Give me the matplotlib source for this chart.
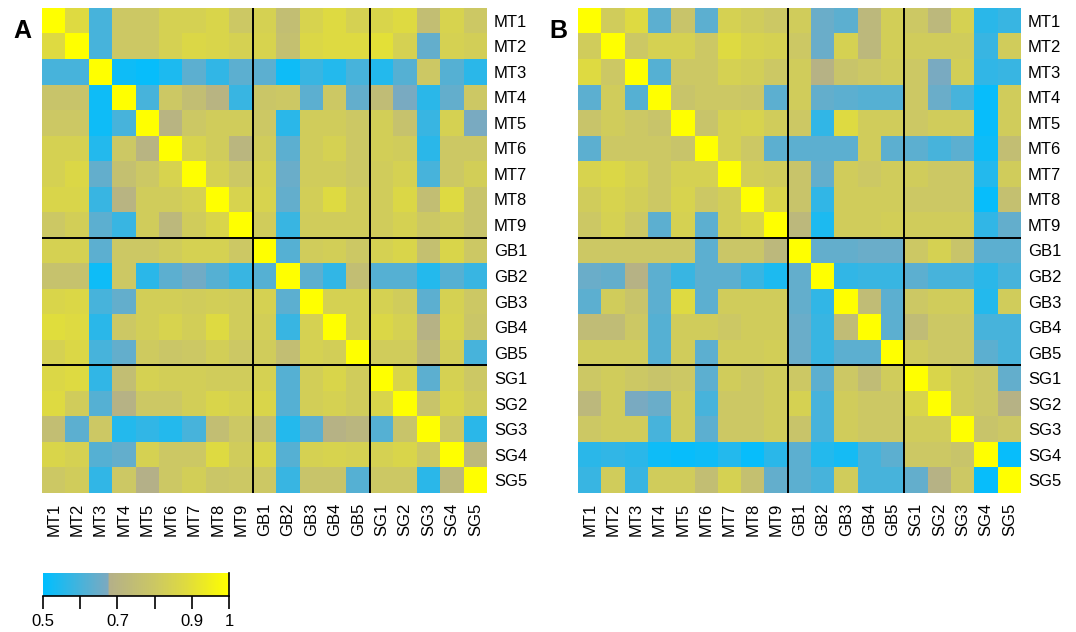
import numpy as np
import matplotlib
matplotlib.use("Agg")
import matplotlib.pyplot as plt
from matplotlib.colors import LinearSegmentedColormap

labels = ["MT1", "MT2", "MT3", "MT4", "MT5", "MT6", "MT7", "MT8", "MT9",
          "GB1", "GB2", "GB3", "GB4", "GB5",
          "SG1", "SG2", "SG3", "SG4", "SG5"]
group_breaks = [9, 14]

corr_a = [
    [1.00,0.88,0.60,0.80,0.80,0.84,0.84,0.86,0.80, 0.84,0.75,0.85,0.88,0.84, 0.86,0.88,0.75,0.85,0.80],
    [0.88,1.00,0.60,0.80,0.80,0.84,0.87,0.86,0.84, 0.85,0.76,0.87,0.88,0.88, 0.90,0.84,0.64,0.84,0.83],
    [0.60,0.60,1.00,0.52,0.51,0.54,0.63,0.57,0.63, 0.63,0.52,0.58,0.55,0.60, 0.55,0.62,0.80,0.62,0.56],
    [0.78,0.78,0.52,1.00,0.60,0.80,0.75,0.70,0.58, 0.79,0.80,0.63,0.80,0.64, 0.74,0.67,0.56,0.64,0.80],
    [0.80,0.80,0.52,0.60,1.00,0.70,0.80,0.82,0.82, 0.80,0.56,0.82,0.82,0.80, 0.83,0.77,0.58,0.84,0.67],
    [0.84,0.84,0.55,0.80,0.70,1.00,0.85,0.82,0.71, 0.82,0.63,0.82,0.84,0.80, 0.83,0.82,0.56,0.80,0.80],
    [0.84,0.87,0.64,0.76,0.80,0.85,1.00,0.84,0.80, 0.84,0.65,0.82,0.82,0.80, 0.82,0.84,0.60,0.80,0.83],
    [0.86,0.86,0.58,0.70,0.82,0.82,0.84,1.00,0.85, 0.85,0.64,0.83,0.88,0.82, 0.82,0.87,0.75,0.88,0.78],
    [0.80,0.83,0.63,0.58,0.82,0.72,0.82,0.86,1.00, 0.82,0.58,0.82,0.82,0.82, 0.82,0.84,0.80,0.82,0.78],
    [0.84,0.84,0.63,0.80,0.80,0.82,0.84,0.84,0.80, 1.00,0.62,0.82,0.83,0.80, 0.84,0.86,0.76,0.86,0.80],
    [0.77,0.77,0.52,0.80,0.56,0.63,0.66,0.62,0.58, 0.62,1.00,0.63,0.57,0.75, 0.62,0.62,0.55,0.62,0.58],
    [0.86,0.87,0.60,0.64,0.83,0.83,0.82,0.83,0.82, 0.84,0.63,1.00,0.84,0.84, 0.84,0.82,0.63,0.84,0.80],
    [0.89,0.88,0.56,0.80,0.83,0.85,0.83,0.88,0.82, 0.83,0.58,0.84,1.00,0.84, 0.87,0.84,0.69,0.85,0.79],
    [0.84,0.87,0.60,0.64,0.81,0.79,0.80,0.83,0.80, 0.82,0.75,0.84,0.83,1.00, 0.82,0.82,0.72,0.83,0.60],
    [0.87,0.88,0.57,0.75,0.84,0.83,0.83,0.82,0.82, 0.84,0.62,0.83,0.86,0.82, 1.00,0.86,0.63,0.84,0.80],
    [0.88,0.82,0.62,0.69,0.80,0.80,0.83,0.86,0.84, 0.86,0.62,0.83,0.84,0.82, 0.86,1.00,0.78,0.86,0.82],
    [0.75,0.63,0.80,0.55,0.57,0.55,0.60,0.75,0.80, 0.76,0.55,0.63,0.69,0.71, 0.62,0.78,1.00,0.80,0.56],
    [0.86,0.84,0.62,0.64,0.84,0.80,0.80,0.88,0.82, 0.86,0.62,0.84,0.85,0.84, 0.84,0.86,0.80,1.00,0.72],
    [0.80,0.82,0.57,0.80,0.68,0.80,0.83,0.79,0.80, 0.80,0.58,0.78,0.78,0.62, 0.80,0.80,0.56,0.72,1.00],
]

corr_b = [
    [1.00,0.82,0.88,0.63,0.78,0.63,0.84,0.82,0.80, 0.82,0.65,0.63,0.72,0.83, 0.80,0.72,0.84,0.56,0.58],
    [0.82,1.00,0.80,0.84,0.84,0.80,0.88,0.85,0.84, 0.80,0.65,0.84,0.72,0.83, 0.82,0.82,0.82,0.58,0.82],
    [0.88,0.80,1.00,0.62,0.80,0.80,0.84,0.83,0.80, 0.82,0.69,0.78,0.80,0.82, 0.80,0.67,0.83,0.57,0.58],
    [0.63,0.82,0.62,1.00,0.78,0.80,0.80,0.79,0.63, 0.82,0.64,0.63,0.62,0.62, 0.80,0.65,0.60,0.51,0.82],
    [0.78,0.82,0.80,0.78,1.00,0.78,0.84,0.85,0.82, 0.80,0.57,0.88,0.82,0.82, 0.80,0.82,0.82,0.51,0.82],
    [0.63,0.80,0.80,0.80,0.78,1.00,0.84,0.80,0.63, 0.63,0.63,0.63,0.82,0.63, 0.63,0.60,0.63,0.52,0.75],
    [0.85,0.87,0.84,0.80,0.84,0.84,1.00,0.83,0.82, 0.78,0.64,0.82,0.80,0.82, 0.82,0.80,0.80,0.55,0.82],
    [0.82,0.85,0.83,0.80,0.85,0.80,0.83,1.00,0.86, 0.78,0.57,0.82,0.82,0.82, 0.80,0.80,0.80,0.51,0.76],
    [0.80,0.84,0.80,0.63,0.84,0.63,0.83,0.86,1.00, 0.72,0.54,0.82,0.82,0.83, 0.82,0.82,0.82,0.57,0.64],
    [0.80,0.80,0.80,0.80,0.80,0.63,0.79,0.79,0.72, 1.00,0.64,0.64,0.65,0.65, 0.80,0.84,0.78,0.63,0.63],
    [0.65,0.64,0.69,0.63,0.58,0.63,0.63,0.58,0.54, 0.64,1.00,0.57,0.58,0.58, 0.63,0.60,0.60,0.56,0.60],
    [0.63,0.82,0.78,0.63,0.88,0.63,0.82,0.82,0.82, 0.64,0.57,1.00,0.74,0.63, 0.80,0.82,0.82,0.55,0.82],
    [0.74,0.74,0.80,0.62,0.82,0.82,0.80,0.82,0.82, 0.65,0.58,0.74,1.00,0.63, 0.74,0.80,0.80,0.60,0.60],
    [0.82,0.82,0.82,0.62,0.82,0.63,0.82,0.82,0.83, 0.65,0.58,0.63,0.63,1.00, 0.82,0.80,0.80,0.63,0.60],
    [0.80,0.82,0.80,0.78,0.80,0.63,0.82,0.80,0.82, 0.80,0.63,0.80,0.74,0.82, 1.00,0.86,0.82,0.80,0.64],
    [0.72,0.82,0.67,0.65,0.82,0.60,0.80,0.80,0.82, 0.84,0.60,0.82,0.80,0.80, 0.86,1.00,0.82,0.80,0.69],
    [0.80,0.82,0.82,0.60,0.82,0.63,0.80,0.80,0.82, 0.78,0.60,0.82,0.80,0.80, 0.82,0.82,1.00,0.78,0.80],
    [0.56,0.57,0.56,0.52,0.51,0.52,0.55,0.51,0.56, 0.63,0.55,0.53,0.60,0.63, 0.80,0.80,0.78,1.00,0.51],
    [0.58,0.82,0.58,0.82,0.82,0.75,0.84,0.76,0.64, 0.63,0.60,0.82,0.60,0.60, 0.64,0.69,0.80,0.51,1.00],
]

cbar_ticks = [0.5, 0.6, 0.7, 0.8, 0.9, 1.0]
cbar_ticklabels = ["0.5", "", "0.7", "", "0.9", "1"]

plt.rcParams['font.family'] = ['Liberation Sans', 'DejaVu Sans']

vmin, vmax = 0.5, 1.0
def c(r, g, b):
    return (r / 255, g / 255, b / 255)
cmap = LinearSegmentedColormap.from_list("rc", [
    (0.0, c(0, 191, 255)),
    (0.35, c(125, 170, 192)),
    (0.352, c(180, 176, 138)),
    (0.6, c(204, 200, 100)),
    (0.76, c(222, 218, 66)),
    (1.0, c(255, 255, 0)),
])

W, H = 1076, 632
fig = plt.figure(figsize=(W / 100, H / 100), dpi=100)

def draw(mat, x0, x1, y0, y1, letter, lx):
    ax = fig.add_axes([x0 / W, 1 - y1 / H, (x1 - x0) / W, (y1 - y0) / H])
    m = np.array(mat)
    n = len(labels)
    ax.imshow(m, cmap=cmap, vmin=vmin, vmax=vmax, aspect='auto',
              interpolation='nearest', extent=(0, n, n, 0))
    for b in group_breaks:
        ax.axvline(b, color='black', lw=1.4)
        ax.axhline(b, color='black', lw=1.4)
    ax.set_xlim(0, n)
    ax.set_ylim(n, 0)
    ax.set_xticks(np.arange(n) + 0.5)
    ax.set_xticklabels(labels, rotation=90, fontsize=12)
    ax.set_yticks(np.arange(n) + 0.5)
    ax.set_yticklabels(labels, fontsize=12)
    ax.yaxis.tick_right()
    ax.tick_params(length=0, axis='y', pad=5)
    ax.tick_params(length=0, axis='x', pad=7)
    for s in ax.spines.values():
        s.set_visible(False)
    fig.text(lx / W, 1 - 31 / H, letter, fontsize=18, fontweight='bold',
             ha='center', va='center')
    return ax

draw(corr_a, 42, 487, 8, 493, "A", 22)
draw(corr_b, 578, 1021, 8, 493, "B", 558)

# colorbar
cax = fig.add_axes([43 / W, 1 - 596 / H, 186 / W, 23 / H])
grad = np.linspace(vmin, vmax, 400).reshape(1, -1)
cax.imshow(grad, cmap=cmap, vmin=vmin, vmax=vmax, aspect='auto',
           extent=(vmin, vmax, 0, 1))
cax.set_xlim(vmin, vmax)
cax.set_ylim(0, 1)
cax.set_yticks([])
cax.set_xticks(cbar_ticks)
cax.set_xticklabels(cbar_ticklabels, fontsize=12)
cax.tick_params(axis='x', direction='out', length=9, width=1.2, pad=4)
for k in ['top', 'left']:
    cax.spines[k].set_visible(False)
cax.spines['bottom'].set_linewidth(1.2)
cax.spines['right'].set_linewidth(1.2)

fig.savefig("out.png", dpi=100)
